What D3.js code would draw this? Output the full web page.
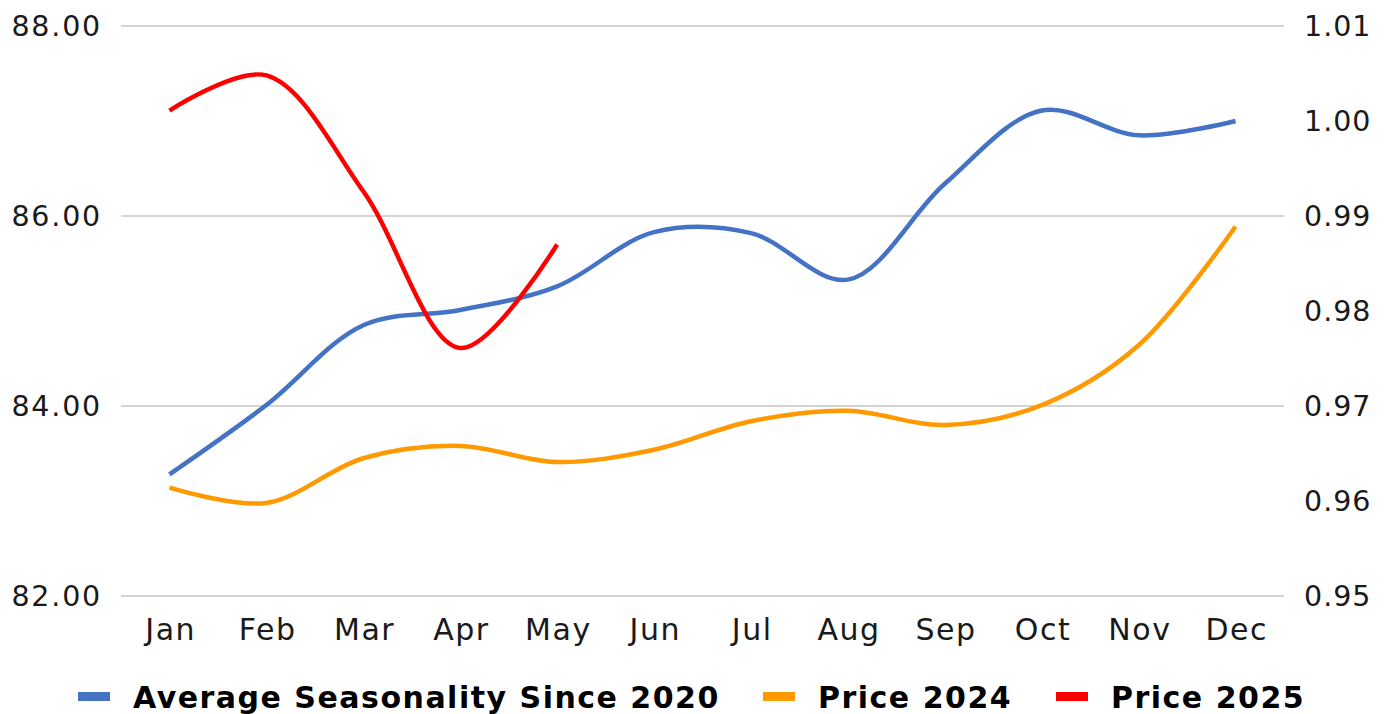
<!DOCTYPE html>
<html>
<head>
<meta charset="utf-8">
<script src="https://cdn.jsdelivr.net/npm/d3@7/dist/d3.min.js"></script>
<style>
  html, body { margin: 0; padding: 0; background: #fff; }
  svg { display: block; font-family: "DejaVu Sans", Verdana, sans-serif; }
</style>
</head>
<body>
<svg id="chart" width="1395" height="714"></svg>
<script>
const months = ["Jan","Feb","Mar","Apr","May","Jun","Jul","Aug","Sep","Oct","Nov","Dec"];
const avgSeasonality = [83.28, 84.01, 84.85, 85.01, 85.26, 85.83, 85.82, 85.33, 86.34, 87.11, 86.85, 87.00];
const price2024 = [0.9614, 0.9598, 0.9645, 0.9658, 0.9641, 0.9654, 0.9684, 0.9695, 0.9680, 0.9701, 0.9764, 0.9889];
const price2025 = [1.0011, 1.0048, 0.9926, 0.9761, 0.9870];
const leftTicks = [82, 84, 86, 88];
const rightTicks = [0.95, 0.96, 0.97, 0.98, 0.99, 1.00, 1.01];
const seriesNames = ["Average Seasonality Since 2020", "Price 2024", "Price 2025"];
const seriesColors = ["#4472C4", "#FF9900", "#FF0000"];

(function () {
const svg = d3.select("#chart");
const pL = 121, pR = 1284, pT = 26, pB = 596;
const FONT = "DejaVu Sans, Verdana, sans-serif";

const x = d3.scalePoint().domain(months).range([pL, pR]).padding(0.5);
const yL = d3.scaleLinear().domain([82, 88]).range([pB, pT]);
const yR = d3.scaleLinear().domain([0.95, 1.01]).range([pB, pT]);

// gridlines
svg.append("g").selectAll("line").data(leftTicks).join("line")
  .attr("x1", pL).attr("x2", pR)
  .attr("y1", d => yL(d)).attr("y2", d => yL(d))
  .attr("stroke", "#d4d4d4").attr("stroke-width", 2);

// left axis
const gl = svg.append("g").attr("transform", `translate(102,0)`)
  .call(d3.axisLeft(yL).tickValues(leftTicks).tickFormat(d3.format(".2f")).tickSize(0).tickPadding(0));
gl.select(".domain").remove();
gl.selectAll("text").attr("font-size", 28.5).attr("fill", "#1a1a1a").attr("font-family", FONT)
  .attr("letter-spacing", "1.8px");

// right axis
const gr = svg.append("g").attr("transform", `translate(1304,0)`)
  .call(d3.axisRight(yR).tickValues(rightTicks).tickFormat(d3.format(".2f")).tickSize(0).tickPadding(0));
gr.select(".domain").remove();
gr.selectAll("text").attr("font-size", 28.5).attr("fill", "#1a1a1a").attr("font-family", FONT)
  .attr("letter-spacing", "1px");

// bottom axis
const gb = svg.append("g").attr("transform", `translate(0,${pB})`)
  .call(d3.axisBottom(x).tickSize(0).tickPadding(23));
gb.select(".domain").remove();
gb.selectAll("text").attr("font-size", 30).attr("fill", "#1a1a1a").attr("font-family", FONT)
  .attr("letter-spacing", "1.5px").attr("dx", "0.75px");

// lines
const curve = d3.curveCatmullRom.alpha(0.5);
const lineL = d3.line().x((d, i) => x(months[i])).y(d => yL(d)).curve(curve);
const lineR = d3.line().x((d, i) => x(months[i])).y(d => yR(d)).curve(curve);

svg.append("path").attr("d", lineL(avgSeasonality)).attr("fill", "none")
  .attr("stroke", seriesColors[0]).attr("stroke-width", 4.5);
svg.append("path").attr("d", lineR(price2024)).attr("fill", "none")
  .attr("stroke", seriesColors[1]).attr("stroke-width", 4.5);
svg.append("path").attr("d", lineR(price2025)).attr("fill", "none")
  .attr("stroke", seriesColors[2]).attr("stroke-width", 4.5);

// legend
const legendPos = [78, 763, 1056];
seriesNames.forEach((name, i) => {
  const g = svg.append("g").attr("transform", `translate(${legendPos[i]},0)`);
  g.append("rect").attr("x", 0).attr("y", 692).attr("width", 32).attr("height", 9).attr("fill", seriesColors[i]);
  g.append("text").attr("x", 55).attr("y", 708).text(name)
    .attr("font-size", 30).attr("font-weight", "bold").attr("fill", "#000")
    .attr("font-family", FONT).attr("letter-spacing", "1.5px");
});
})();
</script>
</body>
</html>
